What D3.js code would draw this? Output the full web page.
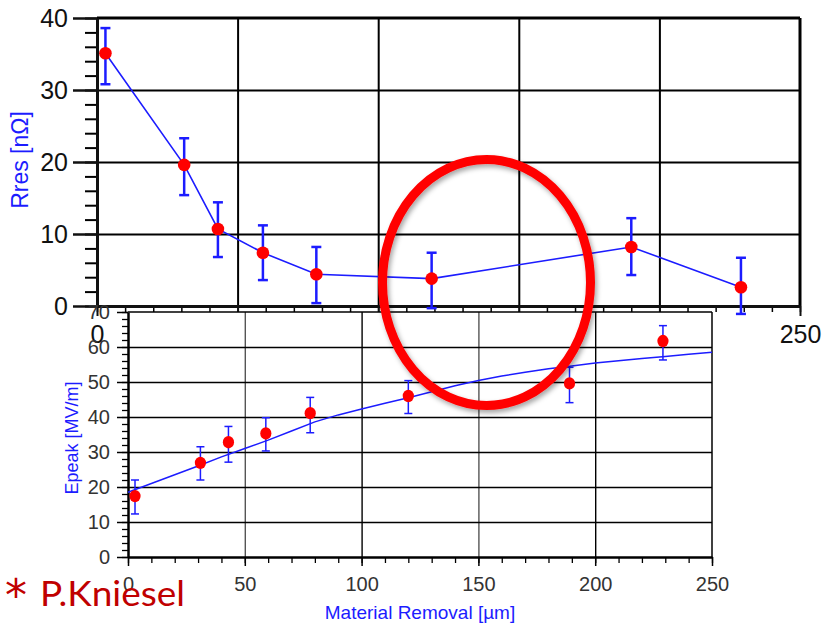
<!DOCTYPE html>
<html>
<head>
<meta charset="utf-8">
<script src="https://cdn.jsdelivr.net/npm/d3@7"></script>
<style>
  body { margin: 0; background: #fff; }
  svg { display: block; }
</style>
</head>
<body>
<script>
// material removal positions (um), shared by both plots
const removalTop = [3, 31, 43, 59, 78, 119, 190, 229];
const rres = [35.1, 19.6, 10.7, 7.4, 4.4, 3.8, 8.2, 2.6];
const rresLo = [30.8, 15.4, 6.8, 3.6, 0.4, -0.3, 4.3, -1.1];
const rresHi = [38.6, 23.3, 14.4, 11.2, 8.2, 7.4, 12.2, 6.7];

const removalBot = [3, 31, 43, 59, 78, 120, 189, 229];
const epeak = [17.4, 26.9, 32.8, 35.3, 41.1, 46.0, 49.6, 61.7];
const epeakLo = [12.3, 22.0, 27.1, 30.3, 35.5, 41.0, 44.1, 56.3];
const epeakHi = [22.0, 31.5, 37.3, 39.8, 45.6, 50.4, 54.2, 66.1];

// fitted curve
const fitX = [0, 10, 20, 30, 40, 50, 60, 70, 80, 90, 100, 110, 120, 130, 140, 150, 160, 170, 180, 190, 200, 210, 220, 230, 240, 250];
const fitY = [18.5, 21.0, 23.5, 26.0, 28.6, 31.0, 33.4, 36.0, 38.6, 40.6, 42.3, 43.9, 45.5, 47.2, 48.9, 50.4, 51.7, 52.8, 53.8, 54.6, 55.4, 56.1, 56.7, 57.3, 57.9, 58.5];

const topXTicks = [0, 50, 100, 150, 200, 250];
const topYTicks = [0, 10, 20, 30, 40];
const botXTicks = [0, 50, 100, 150, 200, 250];
const botYTicks = [0, 10, 20, 30, 40, 50, 60, 70];

const font = "'Liberation Sans', Arial, sans-serif";
const blue = "#1c1cff";
const red = "#ff0000";

const svg = d3.select("body").append("svg")
    .attr("width", 824)
    .attr("height", 625);

const defs = svg.append("defs");
defs.append("filter")
    .attr("id", "shadow")
    .attr("x", "-20%").attr("y", "-20%")
    .attr("width", "140%").attr("height", "140%")
  .append("feDropShadow")
    .attr("dx", 2).attr("dy", 3)
    .attr("stdDeviation", 2.5)
    .attr("flood-color", "#000")
    .attr("flood-opacity", 0.35);

// ---------- upper plot: Rres ----------
const x1 = d3.scaleLinear().domain([0, 250]).range([97, 800]);
const y1 = d3.scaleLinear().domain([0, 40]).range([306, 18]);

const upper = svg.append("g");

// grid
upper.append("g")
    .attr("transform", "translate(0,306)")
    .call(d3.axisBottom(x1).tickValues([50, 100, 150, 200]).tickSize(-288).tickFormat(""))
    .call(g => g.select(".domain").remove())
    .selectAll("line").attr("stroke", "#000").attr("stroke-width", 2);

upper.append("g")
    .attr("transform", "translate(97,0)")
    .call(d3.axisLeft(y1).tickValues([10, 20, 30]).tickSize(-703).tickFormat(""))
    .call(g => g.select(".domain").remove())
    .selectAll("line").attr("stroke", "#000").attr("stroke-width", 2);

// frame top/right
upper.append("line")
    .attr("x1", x1(0)).attr("x2", x1(250))
    .attr("y1", y1(40)).attr("y2", y1(40))
    .attr("stroke", "#000").attr("stroke-width", 3);
upper.append("line")
    .attr("x1", x1(250)).attr("x2", x1(250))
    .attr("y1", y1(40)).attr("y2", y1(0))
    .attr("stroke", "#000").attr("stroke-width", 3);

// y axis
upper.append("g")
    .attr("transform", "translate(97,0)")
    .call(d3.axisLeft(y1).tickValues(d3.range(0, 41, 2)).tickSize(12).tickSizeOuter(0).tickFormat(""))
    .call(g => g.select(".domain").remove())
    .selectAll("line").attr("stroke", "#000").attr("stroke-width", 2);

upper.append("g")
    .attr("transform", "translate(97,0)")
    .style("color", "#111")
    .call(d3.axisLeft(y1).tickValues(topYTicks).tickSize(24).tickSizeOuter(0).tickPadding(5))
    .call(g => g.select(".domain").attr("stroke-width", 3))
    .call(g => g.selectAll("line").attr("stroke-width", 2.5))
    .call(g => g.selectAll("text").attr("font-size", 25).attr("font-family", font));

// x axis
upper.append("g")
    .attr("transform", "translate(0,306)")
    .call(d3.axisBottom(x1).tickValues(d3.range(0, 251, 10)).tickSize(6).tickSizeOuter(0).tickFormat(""))
    .call(g => g.select(".domain").remove())
    .selectAll("line").attr("stroke", "#000").attr("stroke-width", 1.5);

upper.append("g")
    .attr("transform", "translate(0,306)")
    .style("color", "#111")
    .call(d3.axisBottom(x1).tickValues(topXTicks).tickSize(10).tickSizeOuter(0).tickPadding(9))
    .call(g => g.select(".domain").attr("stroke-width", 3))
    .call(g => g.selectAll("line").attr("stroke-width", 2))
    .call(g => g.selectAll("text").attr("font-size", 25).attr("font-family", font));

upper.append("text")
    .attr("transform", "translate(28,160) rotate(-90)")
    .attr("text-anchor", "middle")
    .attr("font-family", font)
    .attr("font-size", 23)
    .attr("fill", blue)
    .text("Rres [nΩ]");

// data
const rresData = removalTop.map((d, i) => ({ x: d, y: rres[i], lo: rresLo[i], hi: rresHi[i] }));

upper.append("path")
    .datum(rresData)
    .attr("fill", "none")
    .attr("stroke", blue)
    .attr("stroke-width", 1.6)
    .attr("d", d3.line().x(d => x1(d.x)).y(d => y1(d.y)));

const eb1 = upper.selectAll(".eb1").data(rresData).enter().append("g")
    .attr("stroke", blue).attr("stroke-width", 2.5);
eb1.append("line")
    .attr("x1", d => x1(d.x)).attr("x2", d => x1(d.x))
    .attr("y1", d => y1(d.lo)).attr("y2", d => y1(d.hi));
eb1.append("line")
    .attr("x1", d => x1(d.x) - 5).attr("x2", d => x1(d.x) + 5)
    .attr("y1", d => y1(d.lo)).attr("y2", d => y1(d.lo));
eb1.append("line")
    .attr("x1", d => x1(d.x) - 5).attr("x2", d => x1(d.x) + 5)
    .attr("y1", d => y1(d.hi)).attr("y2", d => y1(d.hi));

upper.selectAll(".dot1").data(rresData).enter().append("circle")
    .attr("cx", d => x1(d.x))
    .attr("cy", d => y1(d.y))
    .attr("r", 6.3)
    .attr("fill", red);

// ---------- lower plot: Epeak ----------
const x2 = d3.scaleLinear().domain([0, 250]).range([128, 712]);
const y2 = d3.scaleLinear().domain([0, 70]).range([557, 312]);

const lower = svg.append("g");

lower.append("rect")
    .attr("x", x2(0)).attr("y", y2(70))
    .attr("width", x2(250) - x2(0))
    .attr("height", y2(0) - y2(70))
    .attr("fill", "#fff");

lower.append("g")
    .attr("transform", "translate(0,557)")
    .call(d3.axisBottom(x2).tickValues([50, 100, 150, 200]).tickSize(-245).tickFormat(""))
    .call(g => g.select(".domain").remove())
    .selectAll("line")
    .attr("stroke", d => d % 100 === 0 ? "#000" : "#555")
    .attr("stroke-width", 1.4);

lower.append("g")
    .attr("transform", "translate(128,0)")
    .call(d3.axisLeft(y2).tickValues([10, 20, 30, 40, 50, 60]).tickSize(-584).tickFormat(""))
    .call(g => g.select(".domain").remove())
    .selectAll("line").attr("stroke", "#000").attr("stroke-width", 1.4);

lower.append("line")
    .attr("x1", x2(0)).attr("x2", x2(250))
    .attr("y1", y2(70)).attr("y2", y2(70))
    .attr("stroke", "#000").attr("stroke-width", 1.5);
lower.append("line")
    .attr("x1", x2(250)).attr("x2", x2(250))
    .attr("y1", y2(70)).attr("y2", y2(0))
    .attr("stroke", "#000").attr("stroke-width", 1.5);

lower.append("g")
    .attr("transform", "translate(128,0)")
    .call(d3.axisLeft(y2).tickValues(d3.range(0, 71, 2)).tickSize(6).tickSizeOuter(0).tickFormat(""))
    .call(g => g.select(".domain").remove())
    .selectAll("line").attr("stroke", "#000").attr("stroke-width", 1.3);

lower.append("g")
    .attr("transform", "translate(128,0)")
    .style("color", "#333")
    .call(d3.axisLeft(y2).tickValues(botYTicks).tickSize(11).tickSizeOuter(0).tickPadding(7))
    .call(g => g.select(".domain").attr("stroke", "#000").attr("stroke-width", 2.5))
    .call(g => g.selectAll("line").attr("stroke", "#000").attr("stroke-width", 1.5))
    .call(g => g.selectAll("text").attr("font-size", 20).attr("font-family", font));

lower.append("g")
    .attr("transform", "translate(0,557)")
    .call(d3.axisBottom(x2).tickValues(d3.range(0, 251, 10)).tickSize(6).tickSizeOuter(0).tickFormat(""))
    .call(g => g.select(".domain").remove())
    .selectAll("line").attr("stroke", "#000").attr("stroke-width", 1.3);

lower.append("g")
    .attr("transform", "translate(0,557)")
    .style("color", "#333")
    .call(d3.axisBottom(x2).tickValues(botXTicks).tickSize(9).tickSizeOuter(0).tickPadding(11))
    .call(g => g.select(".domain").attr("stroke", "#000").attr("stroke-width", 2.5))
    .call(g => g.selectAll("line").attr("stroke", "#000").attr("stroke-width", 1.5))
    .call(g => g.selectAll("text").attr("font-size", 20).attr("font-family", font));

lower.append("text")
    .attr("transform", "translate(78,438) rotate(-90)")
    .attr("text-anchor", "middle")
    .attr("font-family", font)
    .attr("font-size", 18)
    .attr("fill", blue)
    .text("Epeak [MV/m]");

lower.append("text")
    .attr("x", 420).attr("y", 619)
    .attr("text-anchor", "middle")
    .attr("font-family", font)
    .attr("font-size", 19)
    .attr("fill", blue)
    .text("Material Removal [µm]");

const fitData = fitX.map((d, i) => ({ x: d, y: fitY[i] }));
lower.append("path")
    .datum(fitData)
    .attr("fill", "none")
    .attr("stroke", blue)
    .attr("stroke-width", 1.5)
    .attr("d", d3.line().x(d => x2(d.x)).y(d => y2(d.y)));

const epData = removalBot.map((d, i) => ({ x: d, y: epeak[i], lo: epeakLo[i], hi: epeakHi[i] }));

const eb2 = lower.selectAll(".eb2").data(epData).enter().append("g")
    .attr("stroke", blue).attr("stroke-width", 1.5);
eb2.append("line")
    .attr("x1", d => x2(d.x)).attr("x2", d => x2(d.x))
    .attr("y1", d => y2(d.lo)).attr("y2", d => y2(d.hi));
eb2.append("line")
    .attr("x1", d => x2(d.x) - 4).attr("x2", d => x2(d.x) + 4)
    .attr("y1", d => y2(d.lo)).attr("y2", d => y2(d.lo));
eb2.append("line")
    .attr("x1", d => x2(d.x) - 4).attr("x2", d => x2(d.x) + 4)
    .attr("y1", d => y2(d.hi)).attr("y2", d => y2(d.hi));

lower.selectAll(".dot2").data(epData).enter().append("ellipse")
    .attr("cx", d => x2(d.x))
    .attr("cy", d => y2(d.y))
    .attr("rx", 5.6)
    .attr("ry", 6.2)
    .attr("fill", red);

// ---------- annotation ----------
svg.append("ellipse")
    .attr("cx", 486.5).attr("cy", 282.5)
    .attr("rx", 104).attr("ry", 123)
    .attr("fill", "none")
    .attr("stroke", red)
    .attr("stroke-width", 9)
    .attr("filter", "url(#shadow)");

svg.append("text")
    .attr("x", 5).attr("y", 611)
    .attr("font-family", "'DejaVu Sans', sans-serif")
    .attr("font-size", 44)
    .attr("fill", "#c00000")
    .text("*");

svg.append("text")
    .attr("x", 40).attr("y", 606)
    .attr("font-family", "Lato, 'Open Sans', sans-serif")
    .attr("font-size", 35)
    .attr("fill", "#c00000")
    .attr("textLength", 145)
    .attr("lengthAdjust", "spacingAndGlyphs")
    .text("P.Kniesel");
</script>
</body>
</html>
